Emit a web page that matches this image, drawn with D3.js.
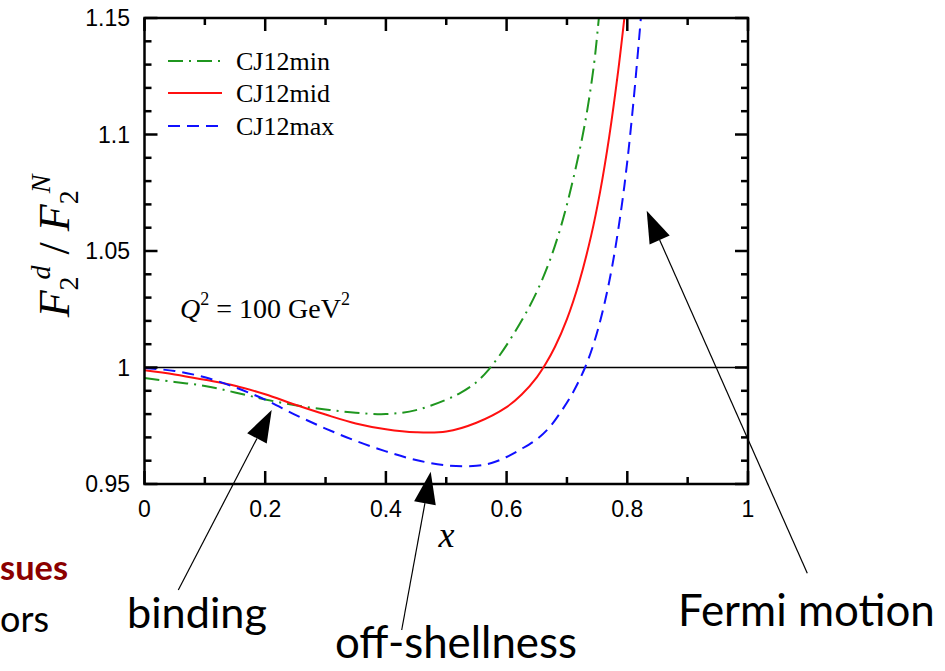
<!DOCTYPE html>
<html><head><meta charset="utf-8">
<script src="https://cdn.jsdelivr.net/npm/d3@7"></script>
<style>body{margin:0;background:#fff}svg{display:block}</style>
</head><body>
<svg id="c" width="945" height="671"></svg>
<script>
// ---- data ----
const xTicks = [0, 0.2, 0.4, 0.6, 0.8, 1];
const xTickLabels = ["0", "0.2", "0.4", "0.6", "0.8", "1"];
const xMinorTicks = [0.1, 0.3, 0.5, 0.7, 0.9];
const yTicks = [0.95, 1, 1.05, 1.1, 1.15];
const yTickLabels = ["0.95", "1", "1.05", "1.1", "1.15"];
const yMinorTicks = [0.96,0.97,0.98,0.99,1.01,1.02,1.03,1.04,1.06,1.07,1.08,1.09,1.11,1.12,1.13,1.14];
const seriesNames = ["CJ12min", "CJ12mid", "CJ12max"];

const minX = [0, 0.05, 0.10, 0.15, 0.20, 0.25, 0.30, 0.35, 0.40, 0.45, 0.50, 0.525, 0.55, 0.57, 0.59, 0.61, 0.63, 0.65, 0.67, 0.69, 0.71, 0.73, 0.745, 0.752, 0.756];
const minY = [0.9955, 0.9938, 0.9921, 0.9893, 0.9863, 0.9838, 0.9820, 0.9806, 0.9800, 0.9817, 0.9862, 0.9893, 0.9937, 0.9990, 1.0058, 1.0137, 1.0224, 1.0325, 1.0448, 1.0605, 1.0805, 1.1050, 1.1305, 1.1477, 1.158];

const midX = [0, 0.05, 0.10, 0.15, 0.20, 0.25, 0.30, 0.35, 0.40, 0.45, 0.50, 0.55, 0.60, 0.625, 0.65, 0.665, 0.68, 0.70, 0.72, 0.74, 0.755, 0.77, 0.785, 0.796];
const midY = [0.9988, 0.9970, 0.9947, 0.9922, 0.9885, 0.9840, 0.9798, 0.9760, 0.9735, 0.9722, 0.9725, 0.9763, 0.9830, 0.9884, 0.9958, 1.0017, 1.0088, 1.0208, 1.0364, 1.0565, 1.0755, 1.0990, 1.1275, 1.1520];

const maxX = [0, 0.05, 0.10, 0.15, 0.20, 0.25, 0.30, 0.35, 0.40, 0.45, 0.50, 0.55, 0.575, 0.60, 0.625, 0.65, 0.67, 0.69, 0.71, 0.73, 0.745, 0.76, 0.775, 0.79, 0.80, 0.81, 0.82, 0.826];
const maxY = [0.9998, 0.9985, 0.9958, 0.9915, 0.9862, 0.9797, 0.9738, 0.9685, 0.9640, 0.9603, 0.9580, 0.9578, 0.9590, 0.9616, 0.9651, 0.9692, 0.9740, 0.9810, 0.9893, 1.0000, 1.0108, 1.0250, 1.0435, 1.0680, 1.0885, 1.1135, 1.1425, 1.1610];

const seriesColors = ["#1f961f", "#ff1010", "#1010ff"];
const seriesDash = ["15,6,2,6", null, "12,7"];

(function () {
// ---- layout ----
const svg = d3.select("#c");
const x = d3.scaleLinear().domain([0, 1]).range([144.5, 748]);
const y = d3.scaleLinear().domain([0.95, 1.15]).range([484, 18]);
const tickFont = "'Liberation Sans', Arial, Helvetica, sans-serif";
const serif = "'Liberation Serif', 'Times New Roman', Times, serif";
const annFont = "Lato, 'Open Sans', sans-serif";

svg.append("defs").append("clipPath").attr("id", "plotclip")
  .append("rect").attr("x", x(0)).attr("y", y(1.15)).attr("width", x(1) - x(0)).attr("height", y(0.95) - y(1.15));

// reference line y=1
svg.append("line").attr("x1", x(0)).attr("x2", x(1)).attr("y1", y(1)).attr("y2", y(1))
  .attr("stroke", "#000").attr("stroke-width", 1.6);

// curves
const series = [
  {name: seriesNames[0], xs: minX, ys: minY},
  {name: seriesNames[1], xs: midX, ys: midY},
  {name: seriesNames[2], xs: maxX, ys: maxY}
];
const line = d3.line().x(d => x(d[0])).y(d => y(d[1])).curve(d3.curveCatmullRom.alpha(0.5));
const g = svg.append("g").attr("clip-path", "url(#plotclip)");
series.forEach((s, i) => {
  g.append("path").attr("d", line(s.xs.map((v, k) => [v, s.ys[k]])))
    .attr("fill", "none").attr("stroke", seriesColors[i]).attr("stroke-width", 2)
    .attr("stroke-dasharray", seriesDash[i]);
});

// tick marks (inward on all four sides)
const tk = svg.append("g").attr("stroke", "#000").attr("stroke-width", 2.5);
const x0 = x(0), x1 = x(1), yb = y(0.95), yt = y(1.15);
function xt(vals, len) {
  tk.selectAll(null).data(vals).join("line")
    .attr("x1", d => x(d)).attr("x2", d => x(d)).attr("y1", yb).attr("y2", yb - len);
  tk.selectAll(null).data(vals).join("line")
    .attr("x1", d => x(d)).attr("x2", d => x(d)).attr("y1", yt).attr("y2", yt + len);
}
function ytk(vals, len) {
  tk.selectAll(null).data(vals).join("line")
    .attr("y1", d => y(d)).attr("y2", d => y(d)).attr("x1", x0).attr("x2", x0 + len);
  tk.selectAll(null).data(vals).join("line")
    .attr("y1", d => y(d)).attr("y2", d => y(d)).attr("x1", x1).attr("x2", x1 - len);
}
xt(xTicks, 13); xt(xMinorTicks, 7);
ytk(yTicks, 13); ytk(yMinorTicks, 7);

// tick labels
svg.append("g").selectAll("text").data(xTicks).join("text")
  .attr("x", d => x(d)).attr("y", 517).attr("text-anchor", "middle")
  .attr("font-family", tickFont).attr("font-size", 23).text((d, i) => xTickLabels[i]);
svg.append("g").selectAll("text").data(yTicks).join("text")
  .attr("x", 130).attr("y", d => y(d)).attr("dy", "0.36em").attr("text-anchor", "end")
  .attr("font-family", tickFont).attr("font-size", 23).text((d, i) => yTickLabels[i]);

// frame
svg.append("rect").attr("x", x0).attr("y", yt).attr("width", x1 - x0).attr("height", yb - yt)
  .attr("fill", "none").attr("stroke", "#000").attr("stroke-width", 2.5);

// legend
const legY = [61, 93, 126];
series.forEach((s, i) => {
  svg.append("line").attr("x1", 168).attr("x2", 222).attr("y1", legY[i]).attr("y2", legY[i])
    .attr("stroke", seriesColors[i]).attr("stroke-width", 2).attr("stroke-dasharray", seriesDash[i]);
  svg.append("text").attr("x", 236).attr("y", legY[i] + 9).attr("font-family", serif).attr("font-size", 26)
    .attr("fill", "#000").text(s.name);
});

// Q^2 label
const q = svg.append("text").attr("x", 180).attr("y", 318).attr("font-family", serif).attr("font-size", 28).attr("fill", "#000");
q.append("tspan").attr("font-style", "italic").text("Q");
q.append("tspan").attr("font-size", 18).attr("dy", -13).text("2");
q.append("tspan").attr("dy", 13).text(" = 100 GeV");
q.append("tspan").attr("font-size", 18).attr("dy", -13).text("2");

// x label
svg.append("text").attr("x", 446.5).attr("y", 547).attr("text-anchor", "middle")
  .attr("font-family", serif).attr("font-style", "italic").attr("font-size", 36).text("x");

// y label
const yl = svg.append("text").attr("transform", "translate(69,246) rotate(-90)").attr("text-anchor", "middle")
  .attr("font-family", serif).attr("font-size", 44).attr("fill", "#000");
yl.append("tspan").attr("font-style", "italic").text("F");
yl.append("tspan").attr("font-size", 28).attr("dy", 9).text("2");
yl.append("tspan").attr("font-style", "italic").attr("font-size", 28).attr("dx", -3).attr("dy", -28).text("d");
yl.append("tspan").attr("dy", 19).text(" / ");
yl.append("tspan").attr("font-style", "italic").text("F");
yl.append("tspan").attr("font-size", 28).attr("dy", 9).text("2");
yl.append("tspan").attr("font-style", "italic").attr("font-size", 28).attr("dx", -3).attr("dy", -28).text("N");

// annotations
function arrow(tail, tip) {
  const dx = tip[0] - tail[0], dy = tip[1] - tail[1], L = Math.hypot(dx, dy);
  const ux = dx / L, uy = dy / L, len = 32, hw = 11;
  const bx = tip[0] - ux * len, by = tip[1] - uy * len;
  svg.append("line").attr("x1", tail[0]).attr("y1", tail[1]).attr("x2", bx).attr("y2", by)
    .attr("stroke", "#000").attr("stroke-width", 1.2);
  svg.append("path").attr("d", `M${tip[0]},${tip[1]}L${bx - uy * hw},${by + ux * hw}L${bx + uy * hw},${by - ux * hw}Z`)
    .attr("fill", "#000");
}
arrow([178.3, 590], [271.7, 410]);
arrow([401.7, 630], [430.7, 471.7]);
arrow([807.3, 573.3], [646.7, 210.7]);

function fitText(txt, xx, yy, w, opts) {
  const t = svg.append("text").attr("x", xx).attr("y", yy).attr("font-family", annFont)
    .attr("font-size", 46).attr("fill", opts.fill || "#000").attr("font-weight", opts.weight || "normal")
    .attr("text-anchor", opts.anchor || "start").text(txt);
  const m = t.node().getComputedTextLength();
  t.attr("font-size", 46 * w / m);
  return t;
}
fitText("binding", 127, 628, 140, {});
fitText("off-shellness", 335, 658, 242, {});
fitText("Fermi motion", 678, 626, 257, {});
fitText("sues", 68, 580, 68, {anchor: "end", weight: "bold", fill: "#8b0000"});
fitText("ors", 49, 632, 49, {anchor: "end"});
})();
</script>
</body></html>
